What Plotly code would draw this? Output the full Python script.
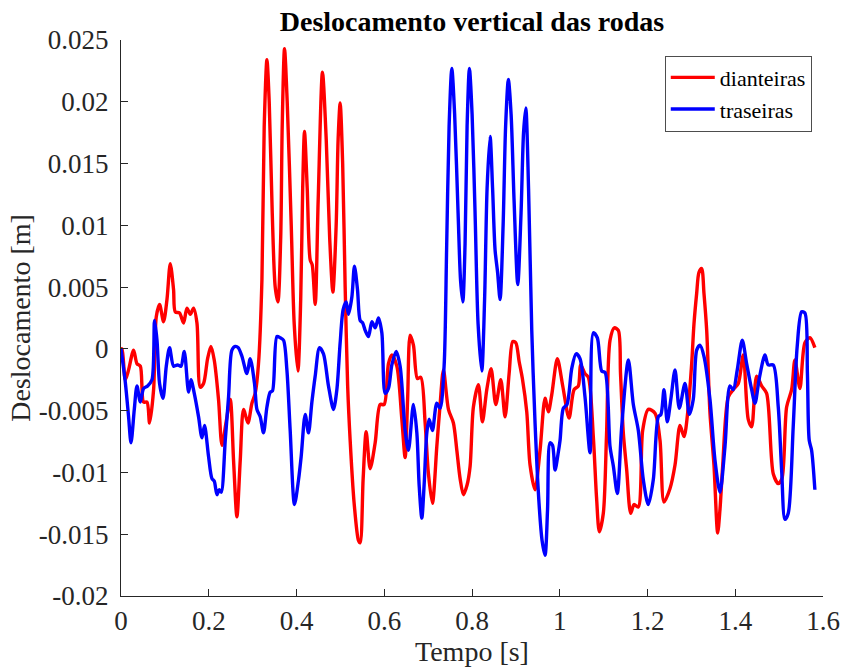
import plotly.graph_objects as go

# ---- data ----
t_front = [0, 0.0023, 0.0098, 0.0173, 0.0287, 0.0364, 0.044, 0.0515, 0.0592, 0.0651, 0.0743, 0.0804,
           0.0879, 0.097, 0.1048, 0.1123, 0.1198, 0.1237, 0.1335, 0.1426, 0.1503, 0.1579, 0.1654, 0.1731,
           0.1806, 0.1882, 0.1973, 0.205, 0.2125, 0.2223, 0.2301, 0.2392, 0.249, 0.2565, 0.2642, 0.2718,
           0.2793, 0.2893, 0.2984, 0.3059, 0.3134, 0.3212, 0.3264, 0.3326, 0.3378, 0.3447, 0.3515, 0.3576,
           0.364, 0.3674, 0.3727, 0.3788, 0.388, 0.3948, 0.4032, 0.4096, 0.4141, 0.4182, 0.4244, 0.4312,
           0.4358, 0.4426, 0.4494, 0.4592, 0.4677, 0.4756, 0.4829, 0.4904, 0.4949, 0.4995, 0.5052, 0.5109,
           0.5166, 0.5223, 0.5314, 0.5412, 0.5451, 0.5519, 0.5588, 0.5679, 0.5793, 0.5907, 0.5998, 0.6096,
           0.6173, 0.6287, 0.6401, 0.6476, 0.6533, 0.659, 0.6665, 0.6756, 0.6834, 0.6932, 0.7007, 0.7098,
           0.7198, 0.7273, 0.7349, 0.7463, 0.7576, 0.7654, 0.7729, 0.7804, 0.7889, 0.7957, 0.8032, 0.8146,
           0.8237, 0.8337, 0.8435, 0.8542, 0.8656, 0.8754, 0.8846, 0.8929, 0.8998, 0.9073, 0.9148, 0.9248,
           0.9323, 0.9437, 0.9551, 0.9665, 0.974, 0.9818, 0.9945, 1.0068, 1.0212, 1.0326, 1.0424, 1.0478,
           1.0576, 1.0652, 1.0765, 1.0838, 1.0902, 1.0993, 1.1066, 1.1146, 1.1244, 1.1335, 1.1385, 1.1449,
           1.1526, 1.1617, 1.1693, 1.179, 1.189, 1.2018, 1.2171, 1.2285, 1.2376, 1.2513, 1.2627, 1.2741,
           1.2832, 1.2929, 1.3007, 1.3059, 1.3121, 1.3173, 1.3235, 1.3287, 1.3349, 1.3424, 1.3515, 1.3599,
           1.3652, 1.3713, 1.3841, 1.3955, 1.4069, 1.4183, 1.4296, 1.4374, 1.4488, 1.4601, 1.4715, 1.4866,
           1.498, 1.5064, 1.5171, 1.5285, 1.536, 1.5474, 1.5588, 1.5702, 1.5815]
v_front = [0, 0, -0.0025, -0.0017, -0.0001, -0.0012, -0.0014, -0.0043, -0.0043, -0.006, -0.0033, 0.0026,
           0.0036, 0.0022, 0.004, 0.0069, 0.0048, 0.003, 0.0029, 0.0021, 0.0033, 0.0028, 0.0033, 0.0021,
           -0.0031, -0.0028, -0.0008, 0.0002, -0.0009, -0.0041, -0.0078, -0.006, -0.0041, -0.009, -0.0136, -0.009,
           -0.0049, -0.006, -0.0044, -0.0036, -0.0012, 0.0056, 0.018, 0.0234, 0.02, 0.011, 0.005, 0.0038,
           0.009, 0.018, 0.0243, 0.02, 0.01, 0.002, -0.0018, 0.004, 0.013, 0.0176, 0.013, 0.0072,
           0.0068, 0.0036, 0.012, 0.0224, 0.017, 0.009, 0.0046, 0.01, 0.017, 0.0199, 0.015, 0.005,
           -0.003, -0.0074, -0.0125, -0.0155, -0.0157, -0.0105, -0.0067, -0.0097, -0.0076, -0.0045, -0.0045, -0.0012,
           -0.0005, -0.0014, -0.0057, -0.0088, -0.004, 0.0011, 0.0003, -0.0024, -0.0023, -0.006, -0.0101, -0.0125,
           -0.0079, -0.0045, -0.0017, -0.0049, -0.006, -0.0082, -0.0105, -0.0118, -0.011, -0.0095, -0.0047, -0.0029,
           -0.0059, -0.0033, -0.0016, -0.0045, -0.0025, -0.0055, -0.002, 0.0006, 0.0005, -0.001, -0.0024, -0.0051,
           -0.0094, -0.0114, -0.0082, -0.004, -0.0051, -0.0037, -0.0008, -0.003, -0.0056, -0.0033, -0.003, -0.0013,
           -0.002, -0.0023, -0.0071, -0.012, -0.0148, -0.0133, -0.007, 0.0007, 0.0017, 0.0015, -0.002, -0.0068,
           -0.0098, -0.0133, -0.0126, -0.0128, -0.0066, -0.0049, -0.0052, -0.0074, -0.0124, -0.0113, -0.0094, -0.0062,
           -0.0071, -0.0047, -0.0012, 0.002, 0.0045, 0.0062, 0.0065, 0.0045, 0.0015, -0.0052, -0.0094, -0.0149,
           -0.013, -0.0095, -0.0039, -0.0033, -0.0028, -0.0005, -0.0057, -0.0063, -0.0022, -0.003, -0.0036, -0.0101,
           -0.0109, -0.0105, -0.0047, -0.0033, -0.0009, -0.0032, 0.0005, 0.0009, 0.0001]

t_rear = [0, 0.0098, 0.0173, 0.0228, 0.0303, 0.0364, 0.044, 0.0515, 0.0606, 0.0706, 0.0765, 0.082,
          0.0879, 0.0957, 0.1032, 0.1107, 0.1198, 0.1289, 0.1367, 0.1442, 0.154, 0.1595, 0.167, 0.1768,
          0.1845, 0.1904, 0.1995, 0.2073, 0.2125, 0.2187, 0.2239, 0.2285, 0.2376, 0.2451, 0.2528, 0.2604,
          0.2672, 0.2756, 0.287, 0.2945, 0.3043, 0.3098, 0.3173, 0.3248, 0.3326, 0.3401, 0.3453, 0.3554,
          0.3629, 0.3704, 0.3781, 0.3856, 0.3954, 0.4046, 0.4107, 0.4198, 0.4273, 0.4351, 0.4426, 0.4524,
          0.4615, 0.4729, 0.4843, 0.492, 0.4995, 0.5064, 0.5132, 0.5185, 0.5262, 0.5321, 0.539, 0.5451,
          0.5508, 0.5565, 0.564, 0.5718, 0.5793, 0.5868, 0.5945, 0.602, 0.6096, 0.6173, 0.6271, 0.6362,
          0.6476, 0.6551, 0.6665, 0.6743, 0.6795, 0.6856, 0.6909, 0.697, 0.7023, 0.7098, 0.7198, 0.7273,
          0.7364, 0.7421, 0.7478, 0.754, 0.7604, 0.7683, 0.774, 0.779, 0.7842, 0.7888, 0.7941, 0.8002,
          0.807, 0.8139, 0.8223, 0.8287, 0.8344, 0.8412, 0.8469, 0.8526, 0.8583, 0.864, 0.8709, 0.8766,
          0.8829, 0.8891, 0.8959, 0.9043, 0.9118, 0.9175, 0.9226, 0.9289, 0.9362, 0.9437, 0.9528, 0.9597,
          0.9665, 0.9722, 0.9779, 0.9836, 0.9893, 0.9961, 1.0007, 1.0082, 1.0166, 1.0273, 1.0371, 1.0462,
          1.0576, 1.069, 1.0765, 1.0856, 1.0957, 1.1032, 1.1146, 1.1222, 1.1312, 1.1412, 1.1564, 1.1677,
          1.1791, 1.1905, 1.2018, 1.2132, 1.2246, 1.2307, 1.2376, 1.2451, 1.2535, 1.2627, 1.2725, 1.2855,
          1.2953, 1.3043, 1.3121, 1.3196, 1.3287, 1.3424, 1.3538, 1.3652, 1.3766, 1.3879, 1.3955, 1.4046,
          1.416, 1.426, 1.4374, 1.445, 1.4547, 1.4677, 1.4752, 1.4866, 1.498, 1.5057, 1.5132, 1.5208,
          1.5321, 1.5412, 1.5513, 1.5588, 1.5645, 1.5686, 1.574, 1.5815]
v_rear = [0, -0.0027, -0.0055, -0.0076, -0.0049, -0.003, -0.0043, -0.0032, -0.003, -0.0025, 0.0023, 0.0007,
          -0.0028, -0.004, -0.0014, 0.0001, -0.0014, -0.0013, -0.0014, -0.0002, -0.0035, -0.0025, -0.0036, -0.0055,
          -0.0072, -0.0062, -0.0087, -0.0105, -0.0107, -0.0118, -0.0114, -0.0116, -0.0074, -0.0039, -0.0001, 0.0002,
          0.0001, -0.0006, -0.002, -0.0008, -0.0028, -0.0049, -0.0055, -0.0068, -0.0047, -0.0035, -0.0034, 0.001,
          0.0009, 0.0007, -0.0017, -0.0066, -0.0126, -0.0106, -0.0087, -0.0053, -0.0068, -0.0043, -0.0022, 0.0001,
          -0.0004, -0.003, -0.0049, -0.0033, 0.0005, 0.0032, 0.0038, 0.0028, 0.0042, 0.0067, 0.0048, 0.0023,
          0.0021, 0.0015, 0.001, 0.0022, 0.0017, 0.0025, 0.0013, -0.0036, -0.0032, -0.0013, -0.0002, -0.0014,
          -0.0066, -0.0082, -0.0045, -0.0068, -0.011, -0.0137, -0.011, -0.0068, -0.0057, -0.0066, -0.0044, -0.0048,
          -0.0014, 0.008, 0.018, 0.0227, 0.019, 0.011, 0.0055, 0.0038, 0.0085, 0.018, 0.0227, 0.019,
          0.011, 0.002, -0.0018, 0.004, 0.013, 0.0172, 0.013, 0.008, 0.0062, 0.004, 0.01, 0.018,
          0.0218, 0.019, 0.012, 0.0052, 0.011, 0.0175, 0.0195, 0.013, 0.0015, -0.006, -0.0125, -0.0155,
          -0.0167, -0.013, -0.0076, -0.0078, -0.0098, -0.0085, -0.0074, -0.0048, -0.0045, -0.0016, -0.0004, -0.0008,
          -0.0039, -0.0084, 0.0013, 0.0009, -0.0018, -0.0019, -0.0079, -0.0095, -0.0117, -0.0063, -0.0009, -0.0045,
          -0.0066, -0.0106, -0.0126, -0.0106, -0.0055, -0.0053, -0.0033, -0.0059, -0.004, -0.0017, -0.0048, -0.0028,
          -0.0053, -0.0041, -0.0001, 0.0003, -0.0006, -0.0041, -0.009, -0.0116, -0.0079, -0.003, -0.0033, -0.0017,
          0.0007, -0.0012, -0.0033, -0.0044, -0.0024, -0.0005, -0.0013, -0.0013, -0.0047, -0.0098, -0.0138, -0.0133,
          -0.0063, 0.0002, 0.003, 0.0029, -0.002, -0.0074, -0.0082, -0.0114]

x_ticks = [0, 0.2, 0.4, 0.6, 0.8, 1.0, 1.2, 1.4, 1.6]
x_ticklabels = ["0", "0.2", "0.4", "0.6", "0.8", "1", "1.2", "1.4", "1.6"]
y_ticks = [-0.02, -0.015, -0.01, -0.005, 0, 0.005, 0.01, 0.015, 0.02, 0.025]
y_ticklabels = ["-0.02", "-0.015", "-0.01", "-0.005", "0", "0.005", "0.01", "0.015", "0.02", "0.025"]

FONT = "Liberation Serif, Times New Roman, serif"
AX = "#262626"

fig = go.Figure()
fig.add_trace(go.Scatter(x=t_front, y=v_front, mode="lines", name="dianteiras",
                         line=dict(color="#ff0000", width=3.4, shape="spline", smoothing=0.8)))
fig.add_trace(go.Scatter(x=t_rear, y=v_rear, mode="lines", name="traseiras",
                         line=dict(color="#0000ff", width=3.4, shape="spline", smoothing=0.8)))

fig.update_layout(
    width=842, height=668,
    margin=dict(l=121, r=19, t=40, b=72),
    paper_bgcolor="white", plot_bgcolor="white",
    font=dict(family=FONT, color="black", size=27),
    title=dict(text="<b>Deslocamento vertical das rodas</b>", x=0.5, xref="paper", xanchor="center",
               y=0.968, yref="container", yanchor="middle",
               font=dict(family=FONT, size=28, color="black")),
    showlegend=True,
    legend=dict(x=0.984, y=0.972, xanchor="right", yanchor="top",
                bgcolor="white", bordercolor="#4d4d4d", borderwidth=1,
                font=dict(family=FONT, size=22, color="black"),
                tracegroupgap=0, itemwidth=44),
)
fig.update_xaxes(range=[0, 1.6], tickvals=x_ticks, ticktext=x_ticklabels, automargin=False,
                 showgrid=False, zeroline=False, showline=True, linecolor=AX, linewidth=1,
                 ticks="inside", ticklen=7, tickcolor=AX, tickfont=dict(size=27, color="#262626"),
                 ticklabelstandoff=1,
                 title=dict(text="Tempo [s]", font=dict(size=28, color="#262626"), standoff=1))
fig.update_yaxes(range=[-0.02, 0.025], tickvals=y_ticks, ticktext=y_ticklabels, automargin=False,
                 showgrid=False, zeroline=False, showline=True, linecolor=AX, linewidth=1,
                 ticks="inside", ticklen=7, tickcolor=AX, tickfont=dict(size=27, color="#262626"),
                 ticklabelstandoff=6,
                 title=dict(text="Deslocamento [m]", font=dict(size=28, color="#262626"), standoff=0))

fig.write_html("out.html")
